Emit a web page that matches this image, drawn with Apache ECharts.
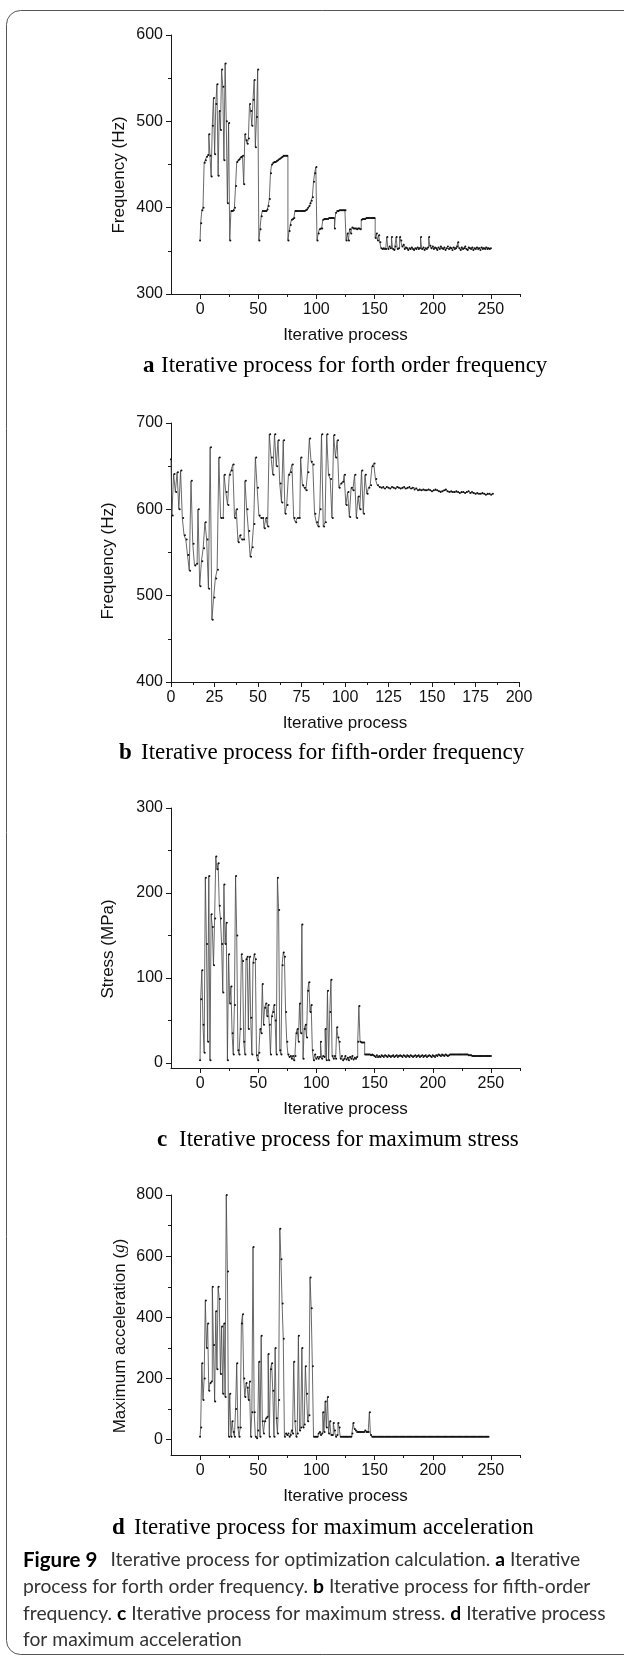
<!DOCTYPE html>
<html><head><meta charset="utf-8">
<script src="https://cdn.jsdelivr.net/npm/echarts@6/dist/echarts.min.js"></script>
<style>html,body{margin:0;padding:0;background:#fff}#c{width:624px;height:1660px}</style>
</head><body><div id="c"></div>
<script>
// ---------- data ----------
const freq4 = [
362,382,397,400,452,455,459,461,485,460,
436,495,527,462,520,543,437,512,490,560,
540,455,567,500,405,498,362,396,396,397,
400,425,453,455,456,458,459,460,427,485,
478,474,480,520,512,495,525,548,470,505,
560,362,375,390,396,396,396,396,398,402,
410,440,450,452,453,453,454,455,456,457,
458,459,460,460,460,460,362,373,380,386,
387,388,396,396,396,396,396,396,396,396,
396,397,398,400,402,405,408,412,430,440,
447,362,370,375,376,376,386,387,387,387,
387,388,388,388,388,388,376,394,396,396,
397,397,397,397,397,397,362,370,362,375,
370,377,376,376,376,375,376,376,375,386,
387,387,387,388,388,388,388,388,388,388,
388,365,370,362,368,360,353,352,353,352,
352,366,352,355,353,366,352,351,355,366,
352,353,366,362,355,357,352,354,353,351,
353,352,354,352,351,353,352,354,352,353,
366,352,354,351,353,352,354,366,356,353,
355,352,354,353,351,354,352,355,353,352,
354,351,353,355,352,354,353,351,354,352,
353,355,360,353,351,354,352,353,355,352,
351,354,353,352,354,351,353,352,354,352,
353,351,354,352,353,352,354,352,353,352,
353];
const freq5 = [
658,593,641,620,643,600,645,590,570,565,
547,529,633,560,535,537,600,511,540,555,
585,565,508,672,472,498,520,530,660,590,
590,640,620,605,640,645,652,590,600,562,
570,565,565,633,600,575,545,556,583,660,
625,593,590,590,578,590,580,687,660,640,
687,650,680,630,608,680,595,605,640,643,
652,590,585,590,590,660,628,625,622,643,
682,655,652,595,585,580,600,687,580,585,
687,640,635,590,686,660,680,625,630,632,
640,605,620,591,625,622,640,590,615,600,
645,595,640,618,625,628,650,653,635,628,
626,625,626,624,626,625,624,626,625,624,
626,625,624,625,626,624,625,626,624,625,
623,624,622,623,622,623,622,622,623,622,
621,622,623,622,621,620,621,622,623,621,
620,621,620,620,621,620,619,620,620,619,
620,621,619,620,619,618,619,618,618,619,
618,617,618,618,617,618];
const stress = [
3,75,109,45,12,218,140,25,220,3,
175,160,115,170,243,228,235,185,170,140,
83,210,140,165,3,128,70,90,35,10,
68,220,150,15,10,40,128,120,25,10,
122,125,40,125,53,10,118,128,122,9,
3,12,40,35,93,45,65,70,55,68,
45,10,55,60,68,50,10,218,180,15,
10,115,130,125,60,25,10,7,8,5,
8,3,8,35,40,25,70,35,163,5,
40,45,30,85,95,60,68,15,3,10,
5,7,5,7,25,5,8,7,40,3,
85,3,60,98,8,5,8,5,42,30,
25,5,8,3,5,8,4,6,3,7,
5,8,4,6,5,7,25,67,25,24,
24,24,10,10,10,10,10,9,10,9,
8,7,9,7,8,7,9,8,7,9,
8,7,9,8,7,8,9,7,8,9,
7,8,9,8,7,9,8,7,9,8,
7,9,8,7,8,9,7,8,9,7,
8,9,7,8,9,7,8,9,8,7,
9,8,7,9,8,10,9,8,10,9,
8,10,9,8,9,10,10,10,10,10,
10,10,10,10,10,10,10,10,10,10,
10,9,9,9,8,8,8,8,8,8,
8,8,8,8,8,8,8,8,8,8,
8];
const accel = [
10,40,250,130,200,455,300,380,160,185,
190,500,310,125,420,230,500,460,215,370,
150,380,140,800,550,10,150,10,60,25,
10,100,250,40,10,40,380,410,200,140,
185,170,130,190,10,90,630,90,10,5,
30,255,10,340,60,20,60,70,75,280,
10,230,250,160,10,300,70,20,130,690,
590,445,330,10,20,15,20,10,15,30,
20,255,60,10,20,340,30,40,300,40,
50,240,150,60,80,530,430,240,10,10,
10,10,20,25,15,20,90,25,125,40,
140,20,60,15,15,55,30,10,15,55,
40,10,10,10,10,10,10,10,10,10,
10,20,55,35,30,25,25,25,25,25,
25,25,30,25,25,25,90,15,10,10,
10,10,10,10,10,10,10,10,10,10,
10,10,10,10,10,10,10,10,10,10,
10,10,10,10,10,10,10,10,10,10,
10,10,10,10,10,10,10,10,10,10,
10,10,10,10,10,10,10,10,10,10,
10,10,10,10,10,10,10,10,10,10,
10,10,10,10,10,10,10,10,10,10,
10,10,10,10,10,10,10,10,10,10,
10,10,10,10,10,10,10,10,10,10,
10,10,10,10,10,10,10,10,10];

// tick labels
const xTicks250 = [0,50,100,150,200,250];
const xMinor250 = [25,75,125,175,225,275];
const xTicks200 = [0,25,50,75,100,125,150,175,200];
const xMinor200 = [12.5,37.5,62.5,87.5,112.5,137.5,162.5,187.5];
const yTicksA = [300,400,500,600], yMinorA = [350,450,550];
const yTicksB = [400,500,600,700], yMinorB = [450,550,650];
const yTicksC = [0,100,200,300], yMinorC = [50,150,250];
const yTicksD = [0,200,400,600,800], yMinorD = [100,300,500,700];

const xTitle = 'Iterative process';
const yTitles = ['Frequency (Hz)', 'Frequency (Hz)', 'Stress (MPa)', 'Maximum acceleration ({i|g})'];
const subLetters = ['a','b','c','d'];
const subTexts = ['Iterative process for forth order frequency','Iterative process for fifth-order frequency','Iterative process for maximum stress','Iterative process for maximum acceleration'];

// ---------- layout / style ----------
const SANS = '"Liberation Sans", Arial, sans-serif';
const SERIF = '"Liberation Serif", "Times New Roman", serif';
const CAP = 'Lato, "Noto Sans", sans-serif';
const INK = '#111';

const panels = [
  {grid:{left:171,top:35,width:349,height:259}, x:{min:-25,max:275,major:xTicks250,minor:xMinor250}, y:{min:300,max:600,major:yTicksA,minor:yMinorA}, data:freq4,
   yt:[119.5,175], sub:[143,161,366]},
  {grid:{left:171,top:423,width:348,height:259}, x:{min:0,max:200,major:xTicks200,minor:xMinor200}, y:{min:400,max:700,major:yTicksB,minor:yMinorB}, data:freq5,
   yt:[108.5,561], sub:[119,141,753]},
  {grid:{left:171,top:808,width:349,height:260}, x:{min:-25,max:275,major:xTicks250,minor:xMinor250}, y:{min:-6,max:300,major:yTicksC,minor:yMinorC}, data:stress,
   yt:[108,949], sub:[157,179,1140]},
  {grid:{left:171,top:1195,width:349,height:260}, x:{min:-25,max:275,major:xTicks250,minor:xMinor250}, y:{min:-50,max:800,major:yTicksD,minor:yMinorD}, data:accel,
   yt:[120,1336], sub:[112,134,1528]}
];

function axisPair(dim, g, cfg) {
  const pos = dim === 'x' ? 'bottom' : 'left';
  const main = {
    type:'value', gridIndex:g, position:pos, offset:0, min:cfg.min, max:cfg.max,
    axisLine:{show:true, onZero:false, lineStyle:{color:'#1a1a1a', width:1}},
    axisTick:{show:true, inside:false, length:5, customValues:cfg.major, lineStyle:{color:'#1a1a1a', width:1}},
    axisLabel:{show:true, customValues:cfg.major, margin:8, color:INK, fontFamily:SANS, fontSize:16},
    splitLine:{show:false}, minorTick:{show:false}, axisPointer:{show:false}
  };
  if (dim === 'x') {
    main.name = xTitle; main.nameLocation = 'middle'; main.nameGap = 33;
    main.nameTextStyle = {fontFamily:SANS, fontSize:17, color:INK};
  }
  const minor = {
    type:'value', gridIndex:g, position:pos, offset:0, min:cfg.min, max:cfg.max,
    axisLine:{show:false, onZero:false},
    axisTick:{show:true, inside:false, length:3, customValues:cfg.minor, lineStyle:{color:'#1a1a1a', width:1}},
    axisLabel:{show:false}, splitLine:{show:false}, axisPointer:{show:false}
  };
  return [main, minor];
}

const xAxis = [], yAxis = [], series = [], graphic = [];
panels.forEach((p, g) => {
  xAxis.push(...axisPair('x', g, p.x));
  yAxis.push(...axisPair('y', g, p.y));
  series.push({
    type:'line', xAxisIndex:2*g, yAxisIndex:2*g, step:'middle',
    data:p.data.map((v, i) => [i, v]),
    symbol:'circle', symbolSize:2, showSymbol:true,
    itemStyle:{color:'#111'}, lineStyle:{color:'#444', width:0.8},
    animation:false, silent:true, clip:false
  });
  graphic.push({
    type:'text', x:p.yt[0], y:p.yt[1], rotation:Math.PI/2, silent:true,
    style:{text:yTitles[g], fill:INK, fontFamily:SANS, fontSize:17,
      align:'center', verticalAlign:'middle', textAlign:'center', textVerticalAlign:'middle',
      rich:{i:{fontFamily:SERIF, fontStyle:'italic', fontSize:17, fill:INK}}}
  });
  graphic.push({
    type:'text', x:p.sub[0], y:p.sub[2], silent:true,
    style:{text:subLetters[g], fill:'#000', fontFamily:SERIF, fontWeight:'bold', fontSize:23,
      align:'left', verticalAlign:'middle', textAlign:'left', textVerticalAlign:'middle'}
  });
  graphic.push({
    type:'text', x:p.sub[1], y:p.sub[2], silent:true,
    style:{text:subTexts[g], fill:'#000', fontFamily:SERIF, fontSize:23,
      align:'left', verticalAlign:'middle', textAlign:'left', textVerticalAlign:'middle'}
  });
});

// caption
const capRich = {b:{fontFamily:CAP, fontWeight:'bold', fontSize:19.3, fill:'#000'}};
const capLines = [
  [110.5, 1560, 'Iterative process for optimization calculation. {b|a} Iterative'],
  [23, 1587, 'process for forth order frequency. {b|b} Iterative process for fifth-order'],
  [23, 1614, 'frequency. {b|c} Iterative process for maximum stress. {b|d} Iterative process'],
  [23, 1640, 'for maximum acceleration']
];
graphic.push({
  type:'text', x:23, y:1560, silent:true,
  style:{text:'Figure 9', fill:'#000', fontFamily:CAP, fontWeight:'bold', fontSize:20.5,
    align:'left', verticalAlign:'middle', textAlign:'left', textVerticalAlign:'middle'}
});
capLines.forEach(l => graphic.push({
  type:'text', x:l[0], y:l[1], silent:true,
  style:{text:l[2], fill:'#333', fontFamily:CAP, fontSize:19.3, rich:capRich,
    align:'left', verticalAlign:'middle', textAlign:'left', textVerticalAlign:'middle'}
}));
// frame
graphic.push({
  type:'rect', silent:true, z:-1,
  shape:{x:6.5, y:10.5, width:660, height:1644, r:14},
  style:{fill:'none', stroke:'#555', lineWidth:1}
});

const chart = echarts.init(document.getElementById('c'), null, {renderer:'canvas', width:624, height:1660});
chart.setOption({
  backgroundColor:'#fff', animation:false,
  grid: panels.map(p => Object.assign({containLabel:false}, p.grid)),
  xAxis, yAxis, series, graphic
});
</script>
</body></html>
